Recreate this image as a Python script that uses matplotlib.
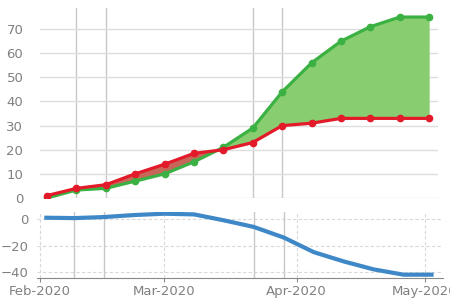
import matplotlib
matplotlib.use("Agg")
import matplotlib.pyplot as plt
import matplotlib.dates as mdates
import numpy as np
import pandas as pd

# weekly data
dates = pd.date_range("2020-02-02", periods=14, freq="7D")
green = [0, 3.3, 4, 7, 10, 15, 21, 29, 44, 56, 65, 71, 75, 75]
red = [1, 4, 5.5, 10, 14, 18.5, 20, 23, 30, 31, 33, 33, 33, 33]
events = pd.to_datetime(["2020-02-09", "2020-02-16", "2020-03-22", "2020-03-29"])
diff = np.array(red) - np.array(green)

GREEN = "#3bb143"
RED = "#e31a2a"
BLUE = "#3f88c8"
TXT = "#808080"
GRID = "#dddddd"

fig = plt.figure(figsize=(4.5, 3), dpi=100)
ax1 = fig.add_axes([40/450, 1-198/300, 398/450, 190/300])
ax2 = fig.add_axes([37/450, 1-278/300, 406/450, 66/300])

d0 = pd.Timestamp("2020-02-02")
ax1.set_xlim(d0 - pd.Timedelta(days=1.67), d0 + pd.Timedelta(days=93.1))
f0 = pd.Timestamp("2020-02-01")
ax2.set_xlim(f0 - pd.Timedelta(days=0.7), f0 + pd.Timedelta(days=94.2))

# top panel
g = np.array(green)
r = np.array(red)
ax1.fill_between(dates, g, r, where=g >= r, interpolate=True, color="#88cd70", lw=0)
ax1.fill_between(dates, g, r, where=g < r, interpolate=True, color="#c8665a", lw=0)
ax1.plot(dates, green, color=GREEN, lw=2.3, marker="o", ms=4.5, zorder=3)
ax1.plot(dates, red, color=RED, lw=2.3, marker="o", ms=4.5, zorder=4)
for e in events:
    ax1.axvline(e, color="#c8c8c8", lw=1, zorder=0)
ax1.set_ylim(0, 78.75)
ax1.set_yticks(range(0, 80, 10))
ax1.yaxis.grid(True, color=GRID, lw=1)
ax1.set_axisbelow(True)
ax1.set_xticks([])
for s in ax1.spines.values():
    s.set_visible(False)
ax1.tick_params(axis="y", length=0, colors=TXT, labelsize=9.5, pad=12)

# bottom panel
ax2.plot(dates, diff, color=BLUE, lw=3, solid_capstyle="butt", zorder=3)
for e in events:
    ax2.axvline(e, color="#c8c8c8", lw=1, zorder=1)
ax2.set_ylim(-44.5, 5.3)
ax2.set_yticks([0, -20, -40])
ax2.xaxis.set_major_locator(mdates.MonthLocator())
ax2.xaxis.set_major_formatter(mdates.DateFormatter("%b-%Y"))
ax2.grid(True, color="#d8d8d8", lw=0.8, ls=(0, (3, 2)))
ax2.set_axisbelow(True)
for s in ["top", "right", "left"]:
    ax2.spines[s].set_visible(False)
ax2.spines["bottom"].set_color("#888888")
ax2.tick_params(axis="y", length=0, colors=TXT, labelsize=9.5, pad=6)
ax2.tick_params(axis="x", colors=TXT, labelsize=9.5, length=3, color="#888888", pad=2)

fig.savefig("out.png", dpi=100)
